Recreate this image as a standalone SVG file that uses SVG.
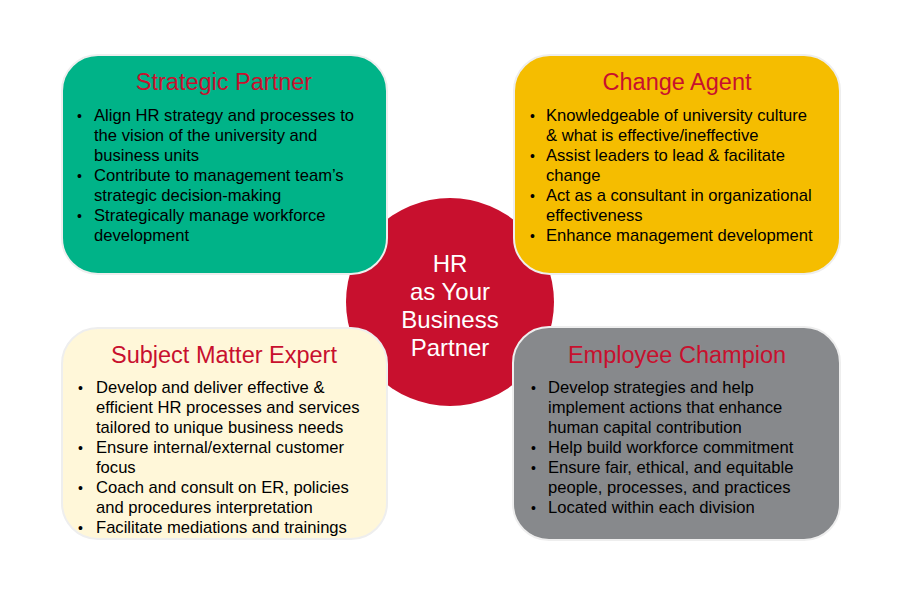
<svg xmlns="http://www.w3.org/2000/svg" width="900" height="602" viewBox="0 0 900 602">
<style>
.box{stroke:#eeeeee;stroke-width:2}
.title{font-family:"Liberation Sans",Arial,sans-serif;font-size:23.5px;fill:#C8102E;text-anchor:middle}
.b{font-family:"Liberation Sans",Arial,sans-serif;font-size:16.6px;fill:#000}
.d{font-size:14px}
.c{font-family:"Liberation Sans",Arial,sans-serif;font-size:24px;fill:#fff;text-anchor:middle}
</style>
<rect width="900" height="602" fill="#fff"/>
<g id="center">
<circle cx="450" cy="302" r="104" fill="#C8102E"/>
<text class="c" x="450" y="272">HR</text>
<text class="c" x="450" y="300">as Your</text>
<text class="c" x="450" y="328">Business</text>
<text class="c" x="450" y="356">Partner</text>
</g>
<g id="strategic-partner">
<rect class="box" x="62" y="55" width="325" height="219" rx="36" fill="#00B388"/>
<text class="title" x="224" y="90">Strategic Partner</text>
<g class="b">
<text class="d" x="77" y="121">•</text>
<text x="94" y="121">Align HR strategy and processes to</text>
<text x="94" y="141">the vision of the university and</text>
<text x="94" y="161">business units</text>
<text class="d" x="77" y="181">•</text>
<text x="94" y="181">Contribute to management team’s</text>
<text x="94" y="201">strategic decision-making</text>
<text class="d" x="77" y="221">•</text>
<text x="94" y="221">Strategically manage workforce</text>
<text x="94" y="241">development</text>
</g>
</g>
<g id="change-agent">
<rect class="box" x="514" y="55" width="326" height="219" rx="36" fill="#F5BD00"/>
<text class="title" x="677" y="90">Change Agent</text>
<g class="b">
<text class="d" x="530" y="121">•</text>
<text x="546" y="121">Knowledgeable of university culture</text>
<text x="546" y="141">&amp; what is effective/ineffective</text>
<text class="d" x="530" y="161">•</text>
<text x="546" y="161">Assist leaders to lead &amp; facilitate</text>
<text x="546" y="181">change</text>
<text class="d" x="530" y="201">•</text>
<text x="546" y="201">Act as a consultant in organizational</text>
<text x="546" y="221">effectiveness</text>
<text class="d" x="530" y="241">•</text>
<text x="546" y="241">Enhance management development</text>
</g>
</g>
<g id="subject-matter-expert">
<rect class="box" x="62" y="328" width="325" height="211" rx="36" fill="#FFF7D9"/>
<text class="title" x="224" y="363">Subject Matter Expert</text>
<g class="b">
<text class="d" x="78" y="393">•</text>
<text x="96" y="393">Develop and deliver effective &amp;</text>
<text x="96" y="413">efficient HR processes  and services</text>
<text x="96" y="433">tailored to unique business needs</text>
<text class="d" x="78" y="453">•</text>
<text x="96" y="453">Ensure internal/external customer</text>
<text x="96" y="473">focus</text>
<text class="d" x="78" y="493">•</text>
<text x="96" y="493">Coach and consult on ER, policies</text>
<text x="96" y="513">and procedures interpretation</text>
<text class="d" x="78" y="533">•</text>
<text x="96" y="533">Facilitate mediations and trainings</text>
</g>
</g>
<g id="employee-champion">
<rect class="box" x="513" y="327" width="327" height="213" rx="36" fill="#87898C"/>
<text class="title" x="677" y="363">Employee Champion</text>
<g class="b">
<text class="d" x="531" y="393">•</text>
<text x="548" y="393">Develop strategies and help</text>
<text x="548" y="413">implement actions that enhance</text>
<text x="548" y="433">human capital contribution</text>
<text class="d" x="531" y="453">•</text>
<text x="548" y="453">Help build workforce commitment</text>
<text class="d" x="531" y="473">•</text>
<text x="548" y="473">Ensure fair, ethical, and equitable</text>
<text x="548" y="493">people, processes, and practices</text>
<text class="d" x="531" y="513">•</text>
<text x="548" y="513">Located within each division</text>
</g>
</g>
<g id="connectors"/>
</svg>
